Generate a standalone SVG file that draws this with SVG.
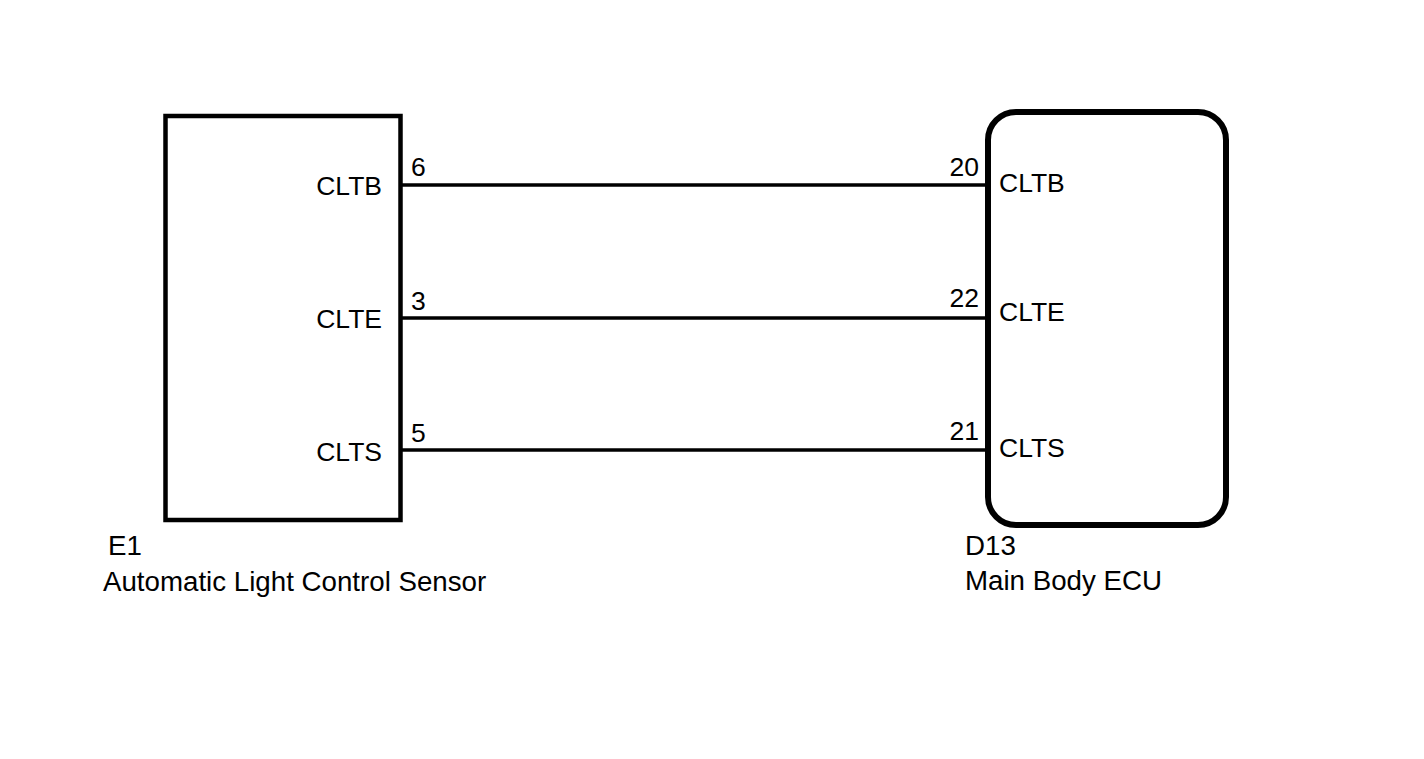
<svg xmlns="http://www.w3.org/2000/svg" width="1424" height="759" viewBox="0 0 1424 759">
<style>
.box{fill:none;stroke:#000}
.wire{stroke:#000;stroke-width:3.5;fill:none}
text{font-family:"Liberation Sans",Arial,sans-serif;fill:#000}
.pin{font-size:26.5px}
.lbl{font-size:27.7px}
.end{text-anchor:end}
</style>
<rect width="1424" height="759" fill="#fff"/>
<g id="connectors">
<line class="wire" x1="400" y1="185" x2="988" y2="185"/>
<line class="wire" x1="400" y1="318" x2="988" y2="318"/>
<line class="wire" x1="400" y1="450" x2="988" y2="450"/>
<text class="pin" x="411" y="176">6</text>
<text class="pin" x="411" y="310">3</text>
<text class="pin" x="411" y="442">5</text>
<text class="pin end" x="979" y="176">20</text>
<text class="pin end" x="979" y="307">22</text>
<text class="pin end" x="979" y="440">21</text>
</g>
<g id="E1">
<rect class="box" x="165.5" y="116" width="235" height="404" stroke-width="4.5"/>
<text class="pin end" x="382" y="195">CLTB</text>
<text class="pin end" x="382" y="328">CLTE</text>
<text class="pin end" x="382" y="461">CLTS</text>
<text class="lbl" x="108" y="555">E1</text>
<text class="lbl" x="103" y="591">Automatic Light Control Sensor</text>
</g>
<g id="D13">
<rect class="box" x="988" y="112" width="238" height="413" rx="28" ry="28" stroke-width="6"/>
<text class="pin" x="999" y="192">CLTB</text>
<text class="pin" x="999" y="321">CLTE</text>
<text class="pin" x="999" y="457">CLTS</text>
<text class="lbl" x="965" y="555">D13</text>
<text class="lbl" x="965" y="590">Main Body ECU</text>
</g>
</svg>
